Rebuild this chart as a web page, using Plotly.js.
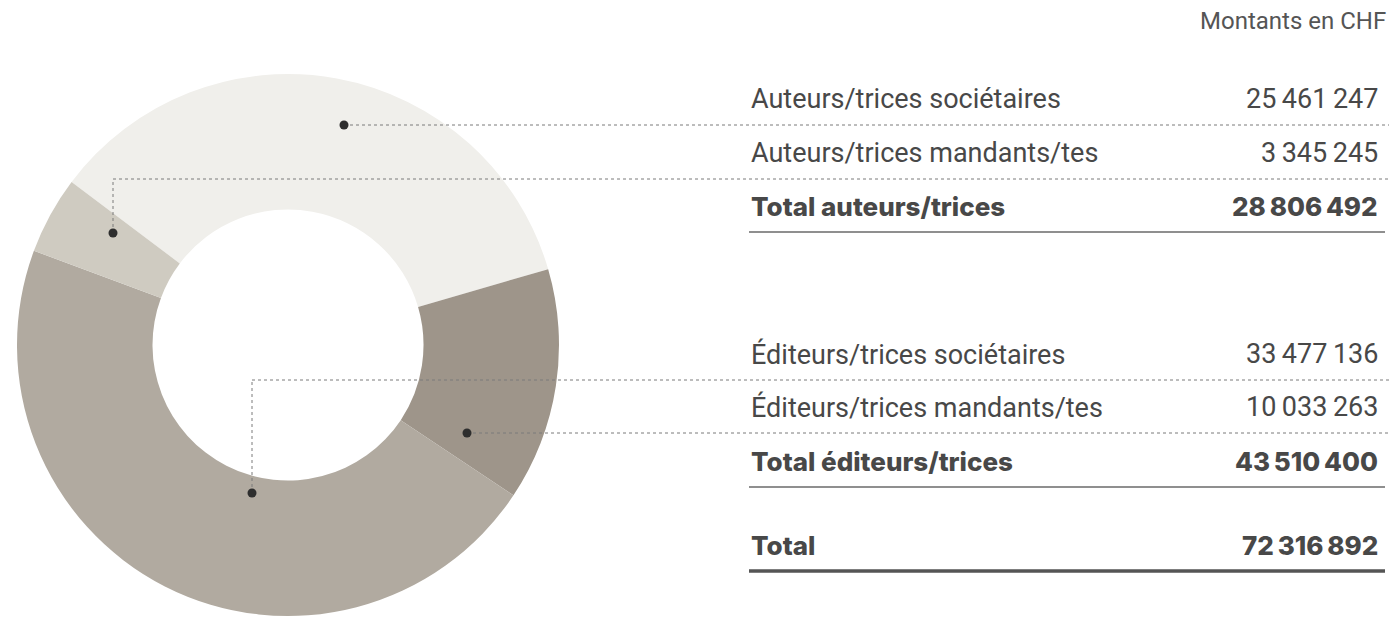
<!DOCTYPE html>
<html>
<head>
<meta charset="utf-8">
<script src="https://cdn.plot.ly/plotly-3.0.1.min.js"></script>
<style>
html,body{margin:0;padding:0;background:#fff;overflow:hidden;}
#chart{width:1389px;height:620px;}
</style>
</head>
<body>
<div id="chart"></div>
<script>
// ---- data ----
const categories = ['Auteurs/trices sociétaires', 'Auteurs/trices mandants/tes', 'Éditeurs/trices sociétaires', 'Éditeurs/trices mandants/tes'];
const values = [25461247, 3345245, 33477136, 10033263];
const sliceColors = ['#f0efeb', '#cfcbc1', '#b1aaa0', '#9e958a'];
const pieOrder = [0, 3, 2, 1];           // clockwise drawing order
const totalLabels = ['Total auteurs/trices', 'Total éditeurs/trices', 'Total'];
const totalValues = [28806492, 43510400, 72316892];
const unitNote = 'Montants en CHF';

// ---- helpers ----
const W = 1389, H = 620;
const px = x => x / W;
const py = y => 1 - y / H;
const fmt = v => String(v).replace(/\B(?=(\d{3})+(?!\d))/g, '\u2009');

const FONT = 'Roboto, "Liberation Sans", sans-serif';
const BFONT = 'Inter, Roboto, sans-serif';
const TXT = '#484848';
const FS = 27;

const pie = {
  type: 'pie',
  labels: pieOrder.map(i => categories[i]),
  values: pieOrder.map(i => values[i]),
  marker: {colors: pieOrder.map(i => sliceColors[i]), line: {width: 0}},
  hole: 0.5,
  sort: false,
  direction: 'clockwise',
  rotation: -53,
  textinfo: 'none',
  hoverinfo: 'none',
  showlegend: false,
  domain: {x: [px(17), px(559)], y: [py(616), py(74)]}
};

const annotations = [];
function txt(x, y, text, anchor, bold, size, color) {
  annotations.push({
    xref: 'paper', yref: 'paper', x: px(x), y: py(y), text: text,
    xanchor: anchor, yanchor: 'middle', showarrow: false,
    font: {family: bold ? BFONT : FONT, size: size || FS, color: color || TXT, weight: bold ? 800 : 400}
  });
}
const L = 749, R = 1380, LR = 1385;
txt(1388, 21, unitNote, 'right', false, 24, '#555');

const rowY = [99, 153, 354, 407];
const rowIdx = [0, 1, 2, 3];
rowIdx.forEach((i, k) => {
  txt(L, rowY[k], categories[i], 'left', false);
  txt(R, rowY[k], fmt(values[i]), 'right', false);
});
const totY = [206, 461, 545];
totalLabels.forEach((t, k) => {
  txt(L, totY[k], t, 'left', true, 26);
  txt(R, totY[k], fmt(totalValues[k]), 'right', true, 26);
});

const shapes = [];
const dotLine = {color: '#7a7a7a', width: 1, dash: 'dot'};
function seg(x0, y0, x1, y1, line) {
  shapes.push({type: 'line', xref: 'paper', yref: 'paper', x0: px(x0), y0: py(y0), x1: px(x1), y1: py(y1), line: line});
}
function dot(x, y) {
  const r = 4.5;
  shapes.push({type: 'circle', xref: 'paper', yref: 'paper', x0: px(x - r), x1: px(x + r), y0: py(y + r), y1: py(y - r),
    fillcolor: '#2e2e2e', line: {width: 0}});
}
// leader lines (also row separators)
seg(344, 125, W, 125, dotLine); dot(344, 125);
seg(113, 233, 113, 179, dotLine); seg(113, 179, W, 179, dotLine); dot(113, 233);
seg(252, 493, 252, 380, dotLine); seg(252, 380, W, 380, dotLine); dot(252, 493);
seg(467, 433, W, 433, dotLine); dot(467, 433);
// total rules
seg(L, 232, LR, 232, {color: '#6a6a6a', width: 1.5});
seg(L, 487, LR, 487, {color: '#6a6a6a', width: 1.5});
seg(L, 571, LR, 571, {color: '#555', width: 3.5});

Plotly.newPlot('chart', [pie], {
  width: W, height: H,
  margin: {l: 0, r: 0, t: 0, b: 0},
  paper_bgcolor: '#fff', plot_bgcolor: '#fff',
  annotations: annotations, shapes: shapes,
  font: {family: FONT}
}, {displayModeBar: false, staticPlot: true});
</script>
</body>
</html>
